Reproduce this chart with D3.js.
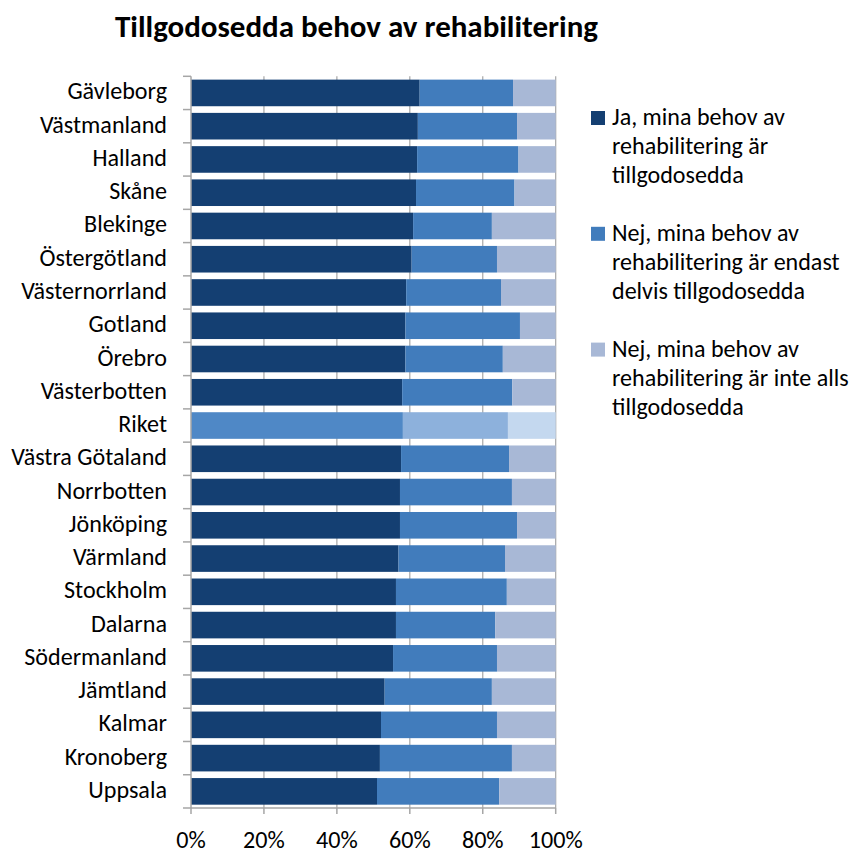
<!DOCTYPE html>
<html><head><meta charset="utf-8">
<script src="https://cdn.jsdelivr.net/npm/d3@7"></script>
<style>body{margin:0;background:#fff;} svg{display:block;}</style>
</head><body>
<script>
const categories = ["Gävleborg","Västmanland","Halland","Skåne","Blekinge","Östergötland","Västernorrland","Gotland","Örebro","Västerbotten","Riket","Västra Götaland","Norrbotten","Jönköping","Värmland","Stockholm","Dalarna","Södermanland","Jämtland","Kalmar","Kronoberg","Uppsala"];
const ja = [62.7,62.2,62.0,61.7,60.9,60.5,59.0,58.8,58.8,57.9,58.1,57.6,57.3,57.3,56.9,56.2,56.2,55.4,53.1,52.1,51.8,51.0];
const delvis = [25.6,27.2,27.8,27.0,21.6,23.4,26.0,31.4,26.7,30.2,28.8,29.6,30.7,32.1,29.2,30.4,27.2,28.5,29.4,31.8,36.2,33.5];
const legendLines = [["Ja, mina behov av","rehabilitering är","tillgodosedda"],["Nej, mina behov av","rehabilitering är endast","delvis tillgodosedda"],["Nej, mina behov av","rehabilitering är inte alls","tillgodosedda"]];
const tickValues = [0,20,40,60,80,100];
const title = "Tillgodosedda behov av rehabilitering";
const colors = ["#143F72","#417CBC","#A8B8D6"];
const riketColors = ["#4F88C6","#8DB1DC","#C4D8EF"];

const W=853,H=855;
const svg=d3.select("body").append("svg").attr("width",W).attr("height",H);
const font="Carlito, Lato, 'Open Sans', sans-serif";

function fitSize(str, weight, target){
  const t=svg.append("text").attr("font-family",font).attr("font-weight",weight).attr("font-size",20).text(str);
  const w=t.node().getComputedTextLength(); t.remove();
  return 20*target/w;
}
const labelSize=fitSize("Västernorrland","normal",146);
const titleSize=fitSize(title,"bold",483);
const legendSize=fitSize("Ja, mina behov av","normal",173);
const tickSize=fitSize("100%","normal",54);

const x=d3.scaleLinear().domain([0,100]).range([191,555.7]);
const y=d3.scaleBand().domain(categories).range([76.3,808]).paddingInner(0.2).paddingOuter(0.1);

const data=categories.map((c,i)=>{const a=ja[i],b=delvis[i];return {cat:c,vals:[a,b,100-a-b]};});

// gridlines
svg.append("g").selectAll("line").data(tickValues.slice(1)).join("line")
 .attr("x1",d=>x(d)).attr("x2",d=>x(d)).attr("y1",76.3).attr("y2",808)
 .attr("stroke","#A6A6A6").attr("stroke-width",1.2);

// bars
const g=svg.append("g");
data.forEach(d=>{
  let acc=0;
  d.vals.forEach((v,k)=>{
    g.append("rect").attr("x",x(acc)).attr("width",x(acc+v)-x(acc))
     .attr("y",y(d.cat)).attr("height",y.bandwidth())
     .attr("fill",d.cat==="Riket"?riketColors[k]:colors[k]);
    acc+=v;
  });
});

// left axis
const yl=svg.append("g");
yl.append("line").attr("x1",191).attr("x2",191).attr("y1",76.3).attr("y2",808).attr("stroke","#A6A6A6").attr("stroke-width",1.5);
d3.range(categories.length+1).forEach(i=>{
  const yy=76.3+i*(731.7/categories.length);
  yl.append("line").attr("x1",183).attr("x2",191).attr("y1",yy).attr("y2",yy).attr("stroke","#A6A6A6").attr("stroke-width",1.5);
});
yl.selectAll("text").data(categories).join("text")
 .attr("x",167).attr("y",d=>y(d)+y.bandwidth()/2+6.5)
 .attr("text-anchor","end").attr("font-family",font).attr("font-size",labelSize).attr("fill","#000").text(d=>d);

// bottom axis
const xa=svg.append("g");
xa.append("line").attr("x1",191).attr("x2",555.7).attr("y1",808).attr("y2",808).attr("stroke","#A6A6A6").attr("stroke-width",1.5);
xa.selectAll("line.t").data(tickValues).join("line").attr("class","t")
 .attr("x1",d=>x(d)).attr("x2",d=>x(d)).attr("y1",808).attr("y2",814).attr("stroke","#A6A6A6").attr("stroke-width",1.5);
xa.selectAll("text").data(tickValues).join("text")
 .attr("x",d=>x(d)).attr("y",848).attr("text-anchor","middle")
 .attr("font-family",font).attr("font-size",tickSize).attr("fill","#000").text(d=>d+"%");

// title
svg.append("text").attr("x",356.5).attr("y",37).attr("text-anchor","middle")
 .attr("font-family",font).attr("font-weight","bold").attr("font-size",titleSize).attr("fill","#000").text(title);

// legend
const lg=svg.append("g");
legendLines.forEach((lines,i)=>{
  const by=125+i*115.8;
  lg.append("rect").attr("x",591).attr("y",by-14).attr("width",14).attr("height",14).attr("fill",colors[i]);
  lines.forEach((t,j)=>{
    lg.append("text").attr("x",612).attr("y",by+j*29).attr("font-family",font).attr("font-size",legendSize).attr("fill","#000").text(t);
  });
});
</script>
</body></html>
